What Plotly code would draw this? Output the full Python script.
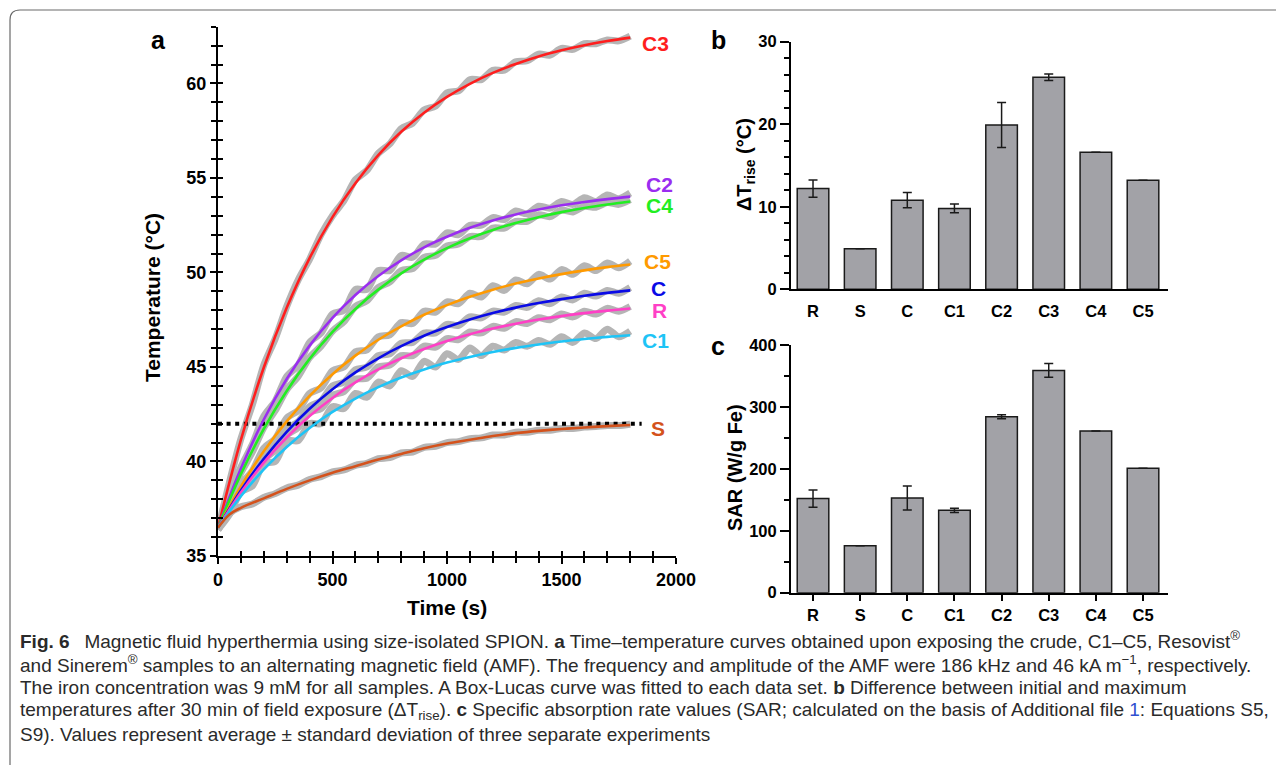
import plotly.graph_objects as go

W, H = 1284, 765
OFF = 8  # page body margin of the browser


def px(x):
    return (x - OFF) / W


def py(y):
    return 1 - (y - OFF) / H


# ---------------- data: panel a ----------------
# Box-Lucas fitted curves
time_s = [0, 100, 200, 300, 400, 500, 600, 700, 800, 900, 1000,
          1100, 1200, 1300, 1400, 1500, 1600, 1700, 1800]
fit_C3 = [36.50, 41.14, 44.97, 48.13, 50.76, 52.93, 54.72, 56.21, 57.44, 58.45,
          59.29, 59.98, 60.56, 61.03, 61.43, 61.75, 62.02, 62.24, 62.42]
fit_C2 = [36.50, 39.63, 42.22, 44.36, 46.13, 47.60, 48.81, 49.81, 50.64, 51.33,
          51.89, 52.36, 52.75, 53.07, 53.33, 53.55, 53.73, 53.88, 54.01]
fit_C4 = [36.50, 39.33, 41.72, 43.73, 45.43, 46.86, 48.07, 49.09, 49.95, 50.68,
          51.29, 51.81, 52.25, 52.61, 52.92, 53.19, 53.41, 53.59, 53.75]
fit_C5 = [36.50, 38.68, 40.54, 42.12, 43.47, 44.62, 45.60, 46.44, 47.15, 47.76,
          48.27, 48.71, 49.09, 49.41, 49.68, 49.91, 50.11, 50.28, 50.42]
fit_C = [36.50, 38.47, 40.14, 41.57, 42.79, 43.82, 44.71, 45.46, 46.10, 46.65,
         47.11, 47.51, 47.85, 48.14, 48.38, 48.59, 48.77, 48.92, 49.05]
fit_R = [36.50, 38.36, 39.94, 41.27, 42.40, 43.36, 44.18, 44.87, 45.46, 45.95,
         46.37, 46.73, 47.03, 47.29, 47.51, 47.69, 47.85, 47.98, 48.09]
fit_C1 = [36.50, 38.17, 39.58, 40.77, 41.77, 42.62, 43.33, 43.93, 44.44, 44.87,
          45.23, 45.53, 45.79, 46.01, 46.19, 46.35, 46.48, 46.59, 46.68]
time_S = [0, 50, 100, 200, 300, 400, 500, 600, 700, 800, 900, 1000,
          1100, 1200, 1300, 1400, 1500, 1600, 1700, 1800]
fit_S = [36.50, 37.20, 37.55, 38.05, 38.55, 39.00, 39.40, 39.75, 40.10, 40.40,
         40.70, 40.95, 41.15, 41.35, 41.50, 41.62, 41.72, 41.80, 41.87, 41.93]

# measured (gray) data, read every 50 s
time_meas = [0, 50, 100, 150, 200, 250, 300, 350, 400, 450, 500, 550, 600, 650, 700, 750,
             800, 850, 900, 950, 1000, 1050, 1100, 1150, 1200, 1250, 1300, 1350, 1400,
             1450, 1500, 1550, 1600, 1650, 1700, 1750, 1800]
meas_C3 = [36.4, 38.9, 41.2, 43.0, 45.1, 46.5, 48.2, 49.6, 50.7, 52.0, 53.0, 53.8, 54.9,
           55.4, 56.3, 56.8, 57.6, 57.9, 58.6, 58.8, 59.5, 59.6, 60.2, 60.2, 60.7, 60.7,
           61.15, 61.2, 61.55, 61.5, 61.85, 61.8, 62.1, 62.1, 62.3, 62.25, 62.5]
meas_C2 = [36.4, 38.2, 39.7, 40.9, 42.4, 43.2, 44.5, 45.1, 46.3, 46.8, 47.8, 48.0, 49.1,
           49.1, 50.1, 50.1, 50.9, 50.8, 51.5, 51.5, 52.1, 52.0, 52.5, 52.5, 52.9, 52.8,
           53.25, 53.1, 53.5, 53.4, 53.75, 53.6, 53.95, 53.75, 54.1, 53.9, 54.2]
meas_C4 = [36.4, 38.0, 39.4, 40.5, 41.8, 42.7, 43.8, 44.5, 45.5, 46.1, 46.9, 47.4, 48.2,
           48.5, 49.2, 49.5, 50.1, 50.2, 50.8, 50.9, 51.4, 51.5, 51.9, 51.9, 52.35, 52.35,
           52.7, 52.7, 53.05, 52.95, 53.3, 53.2, 53.5, 53.45, 53.7, 53.6, 53.85]
meas_C5 = [36.4, 37.6, 38.8, 39.5, 40.7, 41.2, 42.3, 42.7, 43.6, 43.9, 44.8, 45.0, 45.8,
           45.9, 46.6, 46.7, 47.35, 47.3, 47.95, 47.9, 48.45, 48.35, 48.9, 48.7, 49.3, 49.05,
           49.6, 49.4, 49.9, 49.65, 50.15, 49.9, 50.35, 50.1, 50.5, 50.25, 50.6]
meas_C = [36.4, 37.6, 38.6, 39.3, 40.3, 40.8, 41.7, 42.1, 42.9, 43.2, 44.0, 44.2, 44.85,
          45.0, 45.6, 45.7, 46.25, 46.3, 46.8, 46.8, 47.25, 47.2, 47.65, 47.6, 47.95, 47.9,
          48.25, 48.15, 48.5, 48.35, 48.7, 48.55, 48.9, 48.75, 49.05, 48.9, 49.2]
meas_R = [36.4, 37.4, 38.5, 39.1, 40.1, 40.6, 41.4, 41.8, 42.6, 42.8, 43.5, 43.7, 44.35,
          44.4, 45.0, 45.1, 45.6, 45.6, 46.1, 46.05, 46.5, 46.45, 46.85, 46.8, 47.15, 47.05,
          47.4, 47.3, 47.6, 47.5, 47.8, 47.65, 47.95, 47.8, 48.1, 47.95, 48.2]
meas_C1 = [36.4, 37.2, 38.4, 38.7, 39.9, 40.0, 41.1, 41.1, 42.0, 42.0, 42.9, 42.8, 43.6,
           43.4, 44.2, 44.0, 44.8, 44.5, 45.3, 45.0, 45.7, 45.4, 46.0, 45.6, 46.1, 45.9,
           46.3, 46.1, 46.4, 46.2, 46.6, 46.3, 46.8, 46.5, 47.0, 46.6, 46.9]
meas_S = [36.4, 37.25, 37.6, 37.75, 38.1, 38.3, 38.6, 38.75, 39.05, 39.2, 39.45, 39.55,
          39.8, 39.9, 40.15, 40.2, 40.45, 40.5, 40.75, 40.8, 41.0, 41.05, 41.2, 41.25, 41.4,
          41.4, 41.55, 41.55, 41.65, 41.65, 41.75, 41.75, 41.82, 41.85, 41.9, 41.9, 41.97]

threshold_T = 42
threshold_t = [0, 1850]

curve_names = ["C3", "C2", "C4", "C5", "C", "R", "C1", "S"]
curve_colors = ["#ff1e1e", "#9a2df0", "#22ee22", "#ff9a00", "#0a0ae6",
                "#ff40c6", "#1ec4f6", "#d4521c"]
curve_label_t = [1843, 1862, 1862, 1852, 1882, 1886, 1843, 1882]
curve_label_T = [62.1, 54.66, 53.55, 50.6, 49.16, 48.0, 46.4, 41.77]

# ---------------- data: panels b, c ----------------
samples = ["R", "S", "C", "C1", "C2", "C3", "C4", "C5"]
dT_rise = [12.2, 4.9, 10.8, 9.8, 19.9, 25.7, 16.6, 13.2]
dT_err = [1.05, None, 0.93, 0.53, 2.73, 0.4, None, None]
SAR = [152, 76, 153, 133, 284, 359, 261, 201]
SAR_err = [14, None, 19.4, 3.5, 3.2, 11, None, None]

fig = go.Figure()

fits = [(time_s, fit_C3), (time_s, fit_C2), (time_s, fit_C4), (time_s, fit_C5),
        (time_s, fit_C), (time_s, fit_R), (time_s, fit_C1), (time_S, fit_S)]
meas = [meas_C3, meas_C2, meas_C4, meas_C5, meas_C, meas_R, meas_C1, meas_S]

for yy in meas:
    fig.add_trace(go.Scatter(x=time_meas, y=yy, mode="lines",
                             line=dict(color="#b5b5b5", width=7, shape="spline", smoothing=0.8),
                             xaxis="x", yaxis="y", hoverinfo="skip", showlegend=False))

fig.add_trace(go.Scatter(x=threshold_t, y=[threshold_T, threshold_T], mode="lines",
                         line=dict(color="black", width=4, dash="4px,4.6px"),
                         xaxis="x", yaxis="y", hoverinfo="skip", showlegend=False))

for (tt, yy), name, col in zip(fits, curve_names, curve_colors):
    fig.add_trace(go.Scatter(x=tt, y=yy, mode="lines", name=name,
                             line=dict(color=col, width=2.6, shape="spline"),
                             xaxis="x", yaxis="y", showlegend=False))

fig.add_trace(go.Scatter(x=[0], y=[35], mode="markers", marker=dict(opacity=0),
                         xaxis="x4", yaxis="y4", hoverinfo="skip", showlegend=False))

bar_col = "#a2a2a7"
fig.add_trace(go.Bar(x=samples, y=dT_rise, width=0.67, xaxis="x2", yaxis="y2",
                     marker=dict(color=bar_col, line=dict(color="#1a1a1a", width=1.5)),
                     error_y=dict(type="data", array=dT_err, color="#1a1a1a", thickness=1.5, width=4.5),
                     showlegend=False))
fig.add_trace(go.Bar(x=samples, y=SAR, width=0.67, xaxis="x3", yaxis="y3",
                     marker=dict(color=bar_col, line=dict(color="#1a1a1a", width=1.5)),
                     error_y=dict(type="data", array=SAR_err, color="#1a1a1a", thickness=1.5, width=4.5),
                     showlegend=False))

FONT = "Liberation Sans, Arial, sans-serif"
tick_a = dict(family=FONT, size=18, color="black", weight="bold")
tick_b = dict(family=FONT, size=16.5, color="black", weight="bold")

common = dict(showgrid=False, zeroline=False, showline=True, linecolor="black", linewidth=2,
              tickcolor="black", automargin=False)

xa = [218, 676]
ya = [556, 26.7]
xb = [791, 1168]
yb = [289.3, 41.7]
yc = [592.7, 345]

layout = dict(
    width=W, height=H, margin=dict(l=0, r=0, t=0, b=0, pad=0, autoexpand=False),
    paper_bgcolor="white", plot_bgcolor="rgba(0,0,0,0)",
    hovermode=False,
    xaxis=dict(domain=[px(xa[0]), px(xa[1])], range=[0, 2000], anchor="y",
               tickmode="linear", tick0=0, dtick=500, ticks="outside", ticklen=6, tickwidth=2,
               minor=dict(dtick=100, ticks="outside", ticklen=5, tickwidth=1.6, tickcolor="black"),
               tickfont=tick_a, **common),
    yaxis=dict(domain=[py(ya[0]), py(ya[1])], range=[35, 63], anchor="x",
               tickmode="array", tickvals=[35, 40, 45, 50, 55, 60], ticks="outside", ticklen=6, tickwidth=2,
               minor=dict(dtick=1, tick0=35, ticks="outside", ticklen=5, tickwidth=1.6, tickcolor="black"),
               tickfont=tick_a, **common),
    xaxis4=dict(domain=[px(xa[0]), px(xa[1])], range=[0, 2000], anchor="y4", overlaying="x",
                showgrid=False, zeroline=False, showline=False, showticklabels=False, automargin=False,
                tickmode="linear", tick0=0, dtick=500, ticks="inside", ticklen=5, tickwidth=2, tickcolor="black",
                minor=dict(dtick=100, ticks="inside", ticklen=5, tickwidth=1.6, tickcolor="black")),
    yaxis4=dict(domain=[py(ya[0]), py(ya[1])], range=[35, 63], anchor="x4", overlaying="y",
                showgrid=False, zeroline=False, showline=False, showticklabels=False, automargin=False,
                tickmode="array", tickvals=[35, 40, 45, 50, 55, 60], ticks="inside", ticklen=5, tickwidth=2,
                tickcolor="black",
                minor=dict(dtick=1, tick0=35, ticks="inside", ticklen=5, tickwidth=1.6, tickcolor="black")),
    xaxis2=dict(domain=[px(xb[0]), px(xb[1])], range=[-0.467, 7.53], anchor="y2", type="category",
                ticks="", tickfont=tick_b, ticklabelstandoff=6, **common),
    yaxis2=dict(domain=[py(yb[0]), py(yb[1])], range=[0, 30], anchor="x2",
                tickmode="linear", tick0=0, dtick=10, ticks="outside", ticklen=9, tickwidth=2,
                minor=dict(dtick=2, ticks="outside", ticklen=5, tickwidth=1.6, tickcolor="black"),
                tickfont=tick_b, **common),
    xaxis3=dict(domain=[px(xb[0]), px(xb[1])], range=[-0.467, 7.53], anchor="y3", type="category",
                ticks="outside", ticklen=6, tickwidth=2, tickfont=tick_b, **common),
    yaxis3=dict(domain=[py(yc[0]), py(yc[1])], range=[0, 400], anchor="x3",
                tickmode="linear", tick0=0, dtick=100, ticks="outside", ticklen=9, tickwidth=2,
                minor=dict(dtick=50, ticks="outside", ticklen=5, tickwidth=1.6, tickcolor="black"),
                tickfont=tick_b, **common),
)
fig.update_layout(**layout)

ann = []
title_font = dict(family=FONT, size=21, color="black", weight="bold")
ann.append(dict(text="Temperature (°C)", x=px(152), y=py(298), xref="paper", yref="paper",
                textangle=-90, showarrow=False, font=title_font, xanchor="center", yanchor="middle"))
ann.append(dict(text="Time (s)", x=px(447), y=py(607), xref="paper", yref="paper",
                showarrow=False, font=title_font, xanchor="center", yanchor="middle"))
ann.append(dict(text="ΔT<sub>rise</sub> (°C)", x=px(746), y=py(165), xref="paper", yref="paper",
                textangle=-90, showarrow=False, font=dict(family=FONT, size=20, color="black", weight="bold"),
                xanchor="center", yanchor="middle"))
ann.append(dict(text="SAR (W/g Fe)", x=px(735), y=py(468), xref="paper", yref="paper",
                textangle=-90, showarrow=False, font=dict(family=FONT, size=20, color="black", weight="bold"),
                xanchor="center", yanchor="middle"))

letter_font = dict(family=FONT, size=25, color="black", weight="bold")
for letter, lx, ly in [("a", 158, 40), ("b", 718, 40), ("c", 718, 346)]:
    ann.append(dict(text=letter, x=px(lx), y=py(ly), xref="paper", yref="paper", showarrow=False,
                    font=letter_font, xanchor="center", yanchor="middle"))

for name, col, lt, lT in zip(curve_names, curve_colors, curve_label_t, curve_label_T):
    ann.append(dict(text=name, x=lt, y=lT, xref="x", yref="y", showarrow=False,
                    font=dict(family=FONT, size=21, color=col, weight="bold"),
                    xanchor="left", yanchor="middle"))

caption_lines = [
    "<b>Fig. 6</b>\u2002 Magnetic fluid hyperthermia using size-isolated SPION. <b>a</b> Time–temperature curves obtained upon exposing the crude, C1–C5, Resovist<sup>®</sup>",
    "and Sinerem<sup>®</sup> samples to an alternating magnetic field (AMF). The frequency and amplitude of the AMF were 186 kHz and 46 kA m<sup>−1</sup>, respectively.",
    "The iron concentration was 9 mM for all samples. A Box-Lucas curve was fitted to each data set. <b>b</b> Difference between initial and maximum",
    "temperatures after 30 min of field exposure (ΔT<sub>rise</sub>). <b>c</b> Specific absorption rate values (SAR; calculated on the basis of Additional file <span style='color:#2f4fd0'>1</span>: Equations S5,",
    "S9). Values represent average ± standard deviation of three separate experiments",
]
cap_y = [640, 663.5, 687, 710.5, 734]
for line, cy in zip(caption_lines, cap_y):
    ann.append(dict(text=line, x=px(18), y=py(cy), xref="paper", yref="paper", showarrow=False,
                    font=dict(family=FONT, size=19, color="#2a2a2a"), xanchor="left", yanchor="middle"))

fig.update_layout(annotations=ann)

fig.update_layout(shapes=[dict(type="path", xref="paper", yref="paper",
                               path=f"M {px(1300)} {py(10)} L {px(20)} {py(10)} Q {px(10)} {py(10)} {px(10)} {py(20)} L {px(10)} {py(780)}",
                               line=dict(color="#6a6a6a", width=1.2))])

fig.write_html("out.html")
